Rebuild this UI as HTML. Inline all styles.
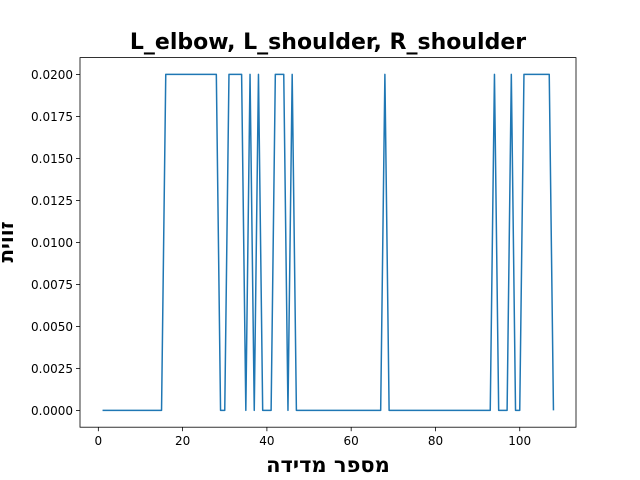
<!DOCTYPE html>
<html><head><meta charset="utf-8"><style>body{margin:0;background:#fff}svg{display:block}</style></head>
<body>
<svg id="chart" width="640" height="480" xmlns="http://www.w3.org/2000/svg" font-family="'Liberation Sans','DejaVu Sans',sans-serif">
<rect width="640" height="480" fill="#fff"/>
<text x="328" y="49" text-anchor="middle" font-size="22" font-weight="bold" font-family="'DejaVu Sans',sans-serif">L_elbow, L_shoulder, R_shoulder</text>
<g id="axes"></g>
<text x="328" y="472" text-anchor="middle" font-size="21" font-weight="bold" font-family="'DejaVu Sans',sans-serif" direction="rtl">מספר מדידה</text>
<text transform="translate(13,242) rotate(-90)" text-anchor="middle" font-size="20" font-weight="bold" font-family="'DejaVu Sans',sans-serif" direction="rtl">זווית</text>
</svg>
<script>
const highRanges = [[16,28],[31,34],[36,36],[38,38],[42,44],[46,46],[68,68],[94,94],[98,98],[101,107]];
const xTicks = [0,20,40,60,80,100];
const yTicks = [0,0.0025,0.005,0.0075,0.01,0.0125,0.015,0.0175,0.02];
const yTickLabels = ["0.0000","0.0025","0.0050","0.0075","0.0100","0.0125","0.0150","0.0175","0.0200"];
const xs = []; const ys = [];
for (let i = 1; i <= 108; i++) { xs.push(i); ys.push(highRanges.some(r => i >= r[0] && i <= r[1]) ? 0.02 : 0); }

const L=80,R=576,T=57.6,B=427.2;
const xmin=-4.35,xmax=113.35,ymin=-0.001,ymax=0.021;
const sx=v=>L+(v-xmin)/(xmax-xmin)*(R-L);
const sy=v=>B-(v-ymin)/(ymax-ymin)*(B-T);
const NS="http://www.w3.org/2000/svg";
const g=document.getElementById('axes');
function mk(tag,attrs){const e=document.createElementNS(NS,tag);for(const k in attrs)e.setAttribute(k,attrs[k]);g.appendChild(e);return e;}
xTicks.forEach(t=>{
  const l=mk('line',{x1:sx(t),x2:sx(t),y1:B,y2:B+4,stroke:'#000','stroke-width':0.8});
  
  
  const tx=mk('text',{x:sx(t),y:B+18,'text-anchor':'middle','font-size':12,'font-family':"'DejaVu Sans',sans-serif"});
  tx.textContent=t;
  
  
});
yTicks.forEach((t,i)=>{
  const l=mk('line',{x1:L-4,x2:L,y1:sy(t),y2:sy(t),stroke:'#000','stroke-width':0.8});
  
  
  const tx=mk('text',{x:L-7,y:sy(t)+4.5,'text-anchor':'end','font-size':12,'font-family':"'DejaVu Sans',sans-serif"});
  tx.textContent=yTickLabels[i];
  
  
});
const p=mk('polyline',{points:xs.map((x,i)=>sx(x)+','+sy(ys[i])).join(' '),fill:'none',stroke:'#1f77b4','stroke-width':1.5,'stroke-linejoin':'round'});


const f=mk('rect',{x:L,y:T,width:R-L,height:B-T,fill:'none',stroke:'#000','stroke-width':0.8});


</script>
</body></html>
